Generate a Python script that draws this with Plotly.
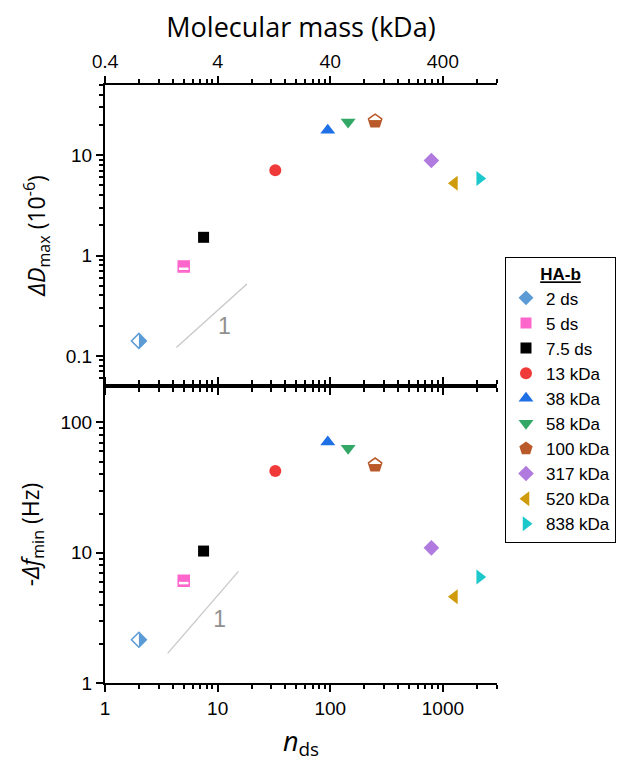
import plotly.graph_objects as go

# ---------------- data ----------------
series_names = ["2 ds", "5 ds", "7.5 ds", "13 kDa", "38 kDa", "58 kDa",
                "100 kDa", "317 kDa", "520 kDa", "838 kDa"]
n_ds = [2, 5, 7.5, 32.5, 95, 144, 250, 790, 1265, 2120]
delta_D_max = [0.141, 0.78, 1.52, 7.1, 17.7, 21.5, 21.9, 8.85, 5.25, 5.85]
neg_delta_f_min = [2.15, 6.1, 10.3, 42.4, 70.7, 63.4, 47.1, 10.9, 4.6, 6.5]

# slope-1 guide lines and their labels
slope_top_x = [4.3, 18.2]
slope_top_y = [0.121, 0.52]
slope_top_label_x = [11.5]
slope_top_label_y = [0.19]
slope_bot_x = [3.6, 15.3]
slope_bot_y = [1.69, 7.2]
slope_bot_label_x = [10.4]
slope_bot_label_y = [3.0]

# axis ticks
x_tickvals = [1, 10, 100, 1000]
x_ticktext = ["1", "10", "100", "1000"]
kda_per_ds = 0.4
mass_ticktext = ["0.4", "4", "40", "400"]
yD_tickvals = [0.1, 1, 10]
yD_ticktext = ["0.1", "1", "10"]
yf_tickvals = [1, 10, 100]
yf_ticktext = ["1", "10", "100"]

# ---------------- styles ----------------
colors = ["#5B9BD5", "#FF66CC", "#000000", "#F03A3A", "#1F6FE5", "#33A866",
          "#BA5A2A", "#B07ADF", "#CF9B0A", "#1CC8CC"]
symbols = ["diamond", "square", "square", "circle", "triangle-up", "triangle-down",
           "pentagon", "diamond", "triangle-left", "triangle-right"]
sizes = [11.5, 11, 11, 12, 13, 13, 14, 12, 13, 13]

# half-filled symbols: white mask band + outline drawn on top of the filled marker
masks = {
    0: dict(symbol="line-ew", size=11, width=7.5, angle=90, standoff=3.75),
    1: dict(symbol="line-ew", size=9, width=2.5, angle=0, standoff=2.4),
    6: dict(symbol="line-ew", size=11, width=6, angle=180, standoff=4),
}
outlines = {0: "diamond-open", 1: "square-open", 6: "pentagon-open"}

GUIDE = "#C8C8C8"
GUIDE_TXT = "#909090"
ARIAL = "Liberation Sans, Arial, sans-serif"
CAL = "Open Sans, sans-serif"

fig = go.Figure()

# guide lines
for xs, ys, lx, ly, xa, ya in [
    (slope_top_x, slope_top_y, slope_top_label_x, slope_top_label_y, "x2", "y2"),
    (slope_bot_x, slope_bot_y, slope_bot_label_x, slope_bot_label_y, "x", "y"),
]:
    fig.add_trace(go.Scatter(x=xs, y=ys, mode="lines", xaxis=xa, yaxis=ya,
                             line=dict(color=GUIDE, width=1.3), showlegend=False,
                             hoverinfo="skip"))
    fig.add_trace(go.Scatter(x=lx, y=ly, mode="text", text=["1"], xaxis=xa, yaxis=ya,
                             textfont=dict(family=ARIAL, size=23, color=GUIDE_TXT),
                             showlegend=False, hoverinfo="skip"))

# markers
for panel, (xa, ya, yvals) in enumerate([("x2", "y2", delta_D_max),
                                          ("x", "y", neg_delta_f_min)]):
    for i, name in enumerate(series_names):
        c = colors[i]
        fig.add_trace(go.Scatter(
            x=[n_ds[i]], y=[yvals[i]], mode="markers", name=name,
            legendgroup=name, showlegend=(panel == 0), xaxis=xa, yaxis=ya,
            marker=dict(symbol=symbols[i], size=sizes[i], color=c,
                        line=dict(width=0, color=c))))
        if i in masks:
            m = masks[i]
            fig.add_trace(go.Scatter(
                x=[n_ds[i]], y=[yvals[i]], mode="markers", legendgroup=name,
                showlegend=False, xaxis=xa, yaxis=ya, hoverinfo="skip",
                marker=dict(symbol=m["symbol"], size=m["size"], color="white",
                            angle=m["angle"], standoff=m["standoff"],
                            line=dict(width=m["width"], color="white"))))
            fig.add_trace(go.Scatter(
                x=[n_ds[i]], y=[yvals[i]], mode="markers", legendgroup=name,
                showlegend=False, xaxis=xa, yaxis=ya, hoverinfo="skip",
                marker=dict(symbol=outlines[i], size=sizes[i], color=c,
                            line=dict(width=1.5, color=c))))

def minor_vals(e0, e1):
    return [m * 10 ** e for e in range(e0, e1) for m in range(2, 10)]

common = dict(type="log", showline=True, linecolor="black", linewidth=2,
              ticks="outside", ticklen=7, tickwidth=2, tickcolor="black",
              showgrid=False, zeroline=False, automargin=False)

fig.update_layout(
    width=624, height=769,
    margin=dict(l=97, r=135, t=77, b=94, autoexpand=False),
    plot_bgcolor="white", paper_bgcolor="white",
    xaxis=dict(**common, domain=[0, 1], anchor="y", range=[0, 3.48], mirror="ticks",
               tickmode="array", tickvals=x_tickvals, ticktext=x_ticktext,
               tickfont=dict(family=ARIAL, size=19, color="black"),
               minor=dict(ticks="outside", ticklen=4, tickwidth=1.5, tickcolor="black",
                          tickmode="array", tickvals=minor_vals(0, 4)),
               title=dict(text="<i>n</i><sub>ds</sub>",
                          font=dict(family=CAL, size=27, color="black"), standoff=14)),
    xaxis2=dict(**common, domain=[0, 1], anchor="y2", side="top", range=[0, 3.48],
                mirror="ticks", tickmode="array",
                tickvals=[float(t) / kda_per_ds for t in mass_ticktext],
                ticktext=mass_ticktext,
                tickfont=dict(family=CAL, size=19, color="black"),
                minor=dict(ticks="outside", ticklen=4, tickwidth=1.5, tickcolor="black",
                           tickmode="array", tickvals=minor_vals(0, 4)),
                title=dict(text="Molecular mass (kDa)",
                           font=dict(family=CAL, size=27, color="black"), standoff=14)),
    yaxis=dict(**common, domain=[0, 0.4967], anchor="x", range=[0, 2.28],
               tickmode="array", tickvals=yf_tickvals, ticktext=yf_ticktext,
               tickfont=dict(family=ARIAL, size=19, color="black"),
               minor=dict(ticks="outside", ticklen=4, tickwidth=1.5, tickcolor="black",
                          tickmode="array", tickvals=minor_vals(0, 3)),
               title=dict(text="-<i>Δf</i><sub>min</sub> (Hz)",
                          font=dict(family=CAL, size=23, color="black"), standoff=14)),
    yaxis2=dict(**common, domain=[0.4967, 1], anchor="x2", range=[-1.3, 1.7],
                tickmode="array", tickvals=yD_tickvals, ticktext=yD_ticktext,
                tickfont=dict(family=ARIAL, size=19, color="black"),
                minor=dict(ticks="outside", ticklen=4, tickwidth=1.5, tickcolor="black",
                           tickmode="array", tickvals=minor_vals(-2, 2)),
                title=dict(text="<i>ΔD</i><sub>max</sub> (10<sup>-6</sup>)",
                           font=dict(family=CAL, size=23, color="black"), standoff=14)),
    legend=dict(x=1.0204, y=0.712, xanchor="left", yanchor="top",
                bordercolor="black", borderwidth=1, bgcolor="white",
                font=dict(family=ARIAL, size=17, color="black"),
                title=dict(text="<b><u>HA-b</u></b>", side="top center",
                           font=dict(family=ARIAL, size=17, color="black")),
                tracegroupgap=0, itemsizing="trace"),
)

fig.write_html("out.html")
